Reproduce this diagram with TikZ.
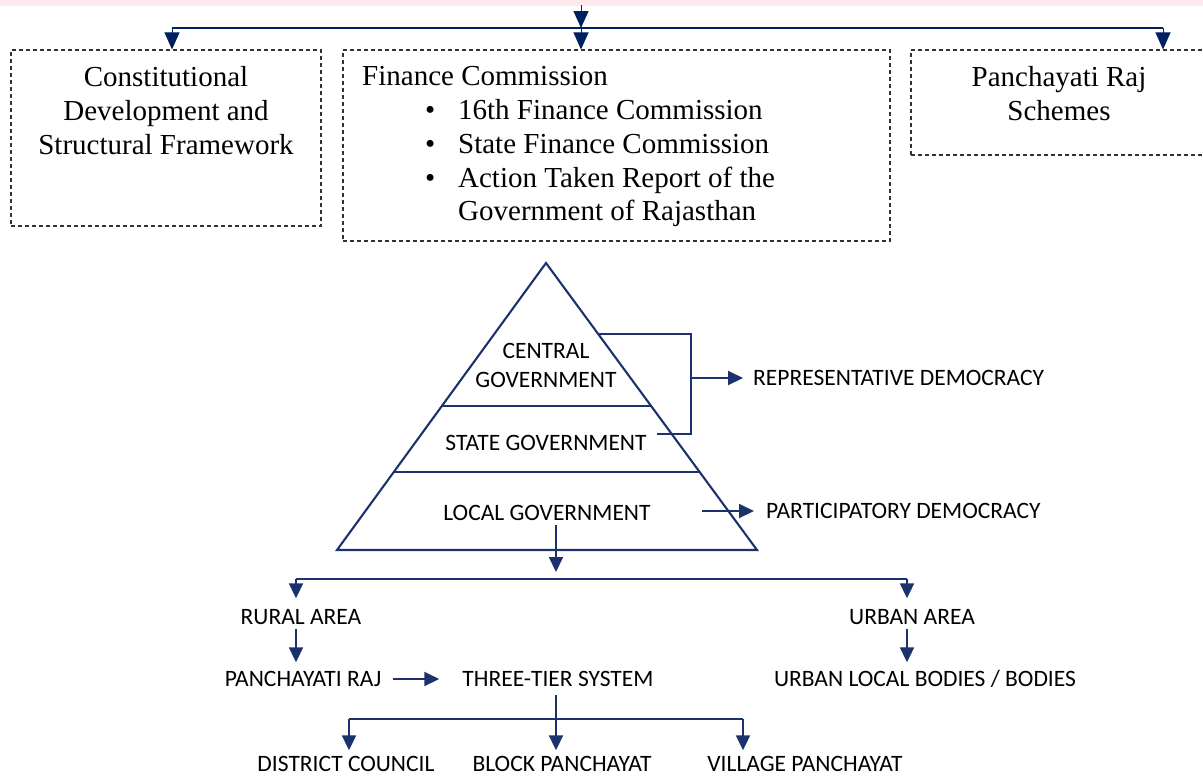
\documentclass[tikz,border=0pt]{standalone}
\usepackage{fontspec}
\setmainfont{Liberation Serif}
\newfontfamily\govfont{Carlito}
\usepackage{tikz}
\usetikzlibrary{arrows.meta,calc}
\definecolor{AzulFlecha}{RGB}{0,32,96}
\definecolor{AzulLinea}{RGB}{28,50,108}
\definecolor{RosaFranja}{RGB}{253,233,236}
\definecolor{GrisCaja}{RGB}{50,50,50}

\begin{document}
\begin{tikzpicture}[x=1pt,y=-1pt,>=Latex,
  dashbox/.style={draw=GrisCaja,dash pattern=on 4pt off 3pt,line width=1.1pt,inner sep=0pt},
  serif/.style={font=\fontsize{29}{33.7}\selectfont,inner sep=0pt},
  gov/.style={font=\govfont\fontsize{23.5}{29}\selectfont,inner sep=0pt,text height=15pt,text depth=0pt},
  toparrow/.style={AzulFlecha,line width=1pt,-{Triangle[width=15pt,length=17pt]}},
  flow/.style={AzulLinea,line width=2pt,-{Triangle[width=14pt,length=15pt]}},
  tier/.style={AzulLinea,line width=2.1pt}]
  \useasboundingbox (0,0) rectangle (1203,777);
  \fill[RosaFranja] (0,0) rectangle (1203,6);

  \node[dashbox,minimum width=310pt,minimum height=176pt] (constbox) at (166,138) {};
  \node[dashbox,minimum width=547pt,minimum height=191pt] (fincbox) at (616.5,145.5) {};
  \node[dashbox,minimum width=296pt,minimum height=105pt] (schemebox) at (1059,102.5) {};
  \node[serif,anchor=north,align=center] (consttext) at (166,66.5)
    {Constitutional\\Development and\\Structural Framework};
  \node[serif,anchor=north west,align=left] (finctext) at (362,66.5)
    {Finance Commission\\
     \hspace*{63pt}\makebox[33pt][l]{\textbullet}16th Finance Commission\\
     \hspace*{63pt}\makebox[33pt][l]{\textbullet}State Finance Commission\\
     \hspace*{63pt}\makebox[33pt][l]{\textbullet}Action Taken Report of the\\
     \hspace*{96pt}Government of Rajasthan};
  \node[serif,anchor=north,align=center] (schemetext) at (1059,66.5) {Panchayati Raj\\Schemes};

  \coordinate (src) at (581,5);
  \coordinate (hub) at (581,28);
  \coordinate (hubL) at (172,28);
  \coordinate (hubR) at (1163,28);
  \draw[toparrow] (src) -- (hub);
  \draw[AzulFlecha,line width=2.2pt] (hubL) -- (hubR);
  \draw[toparrow] (hubL) -- (hubL |- constbox.north);
  \draw[toparrow] (hub) -- (hub |- fincbox.north);
  \draw[toparrow] (hubR) -- (hubR |- schemebox.north);

  \coordinate (apex) at (546,263);
  \coordinate (baseL) at (337,550);
  \coordinate (baseR) at (757,550);
  \draw[tier,line join=miter] (apex) -- (baseL) -- (baseR) -- cycle;
  \draw[tier] ($(apex)!0.498!(baseL)$) -- ($(apex)!0.498!(baseR)$);
  \draw[tier] ($(apex)!0.728!(baseL)$) -- ($(apex)!0.728!(baseR)$);

  \node[gov,align=center,text height=,text depth=] (central) at (546,365.5) {CENTRAL\\GOVERNMENT};
  \node[gov] (state) at (546,443) {STATE GOVERNMENT};
  \node[gov] (local) at (547,513) {LOCAL GOVERNMENT};
  \node[gov,anchor=west] (repdem) at (753,378) {REPRESENTATIVE DEMOCRACY};
  \node[gov,anchor=west] (partdem) at (766,511) {PARTICIPATORY DEMOCRACY};

  \coordinate (rtop) at ($(apex)!0.247!(baseR)$);
  \coordinate (rjoin) at (691,378);
  \coordinate (rbot) at (657,434);
  \draw[tier] (rtop) -- (rtop -| rjoin) -- (rjoin |- rbot) -- (rbot);
  \draw[flow] (rjoin) -- ([xshift=-10pt]repdem.west);
  \draw[flow] ([xshift=-64pt]partdem.west) -- ([xshift=-12pt]partdem.west);

  \node[gov] (rural) at (301,617) {RURAL AREA};
  \node[gov] (urban) at (912,617) {URBAN AREA};
  \node[gov] (panraj) at (303,679) {PANCHAYATI RAJ};
  \node[gov] (threetier) at (558,679) {THREE-TIER SYSTEM};
  \node[gov] (ulb) at (925,679) {URBAN LOCAL BODIES / BODIES};
  \node[gov] (district) at (346,764) {DISTRICT COUNCIL};
  \node[gov] (block) at (562,764) {BLOCK PANCHAYAT};
  \node[gov] (village) at (805,764) {VILLAGE PANCHAYAT};

  \coordinate (areaJ) at (556,579);
  \coordinate (ruralJ) at (296,579);
  \coordinate (urbanJ) at (907,579);
  \draw[flow,shorten <=4pt,shorten >=7pt] (local.south -| areaJ) -- (areaJ);
  \draw[tier] (ruralJ) -- (urbanJ);
  \draw[flow,shorten >=11pt] (ruralJ) -- (ruralJ |- rural.north);
  \draw[flow,shorten >=11pt] (urbanJ) -- (urbanJ |- urban.north);
  \draw[flow,shorten <=4pt,shorten >=9pt] (rural.south -| ruralJ) -- (panraj.north -| ruralJ);
  \draw[flow,shorten <=4pt,shorten >=9pt] (urban.south -| urbanJ) -- (ulb.north -| urbanJ);
  \draw[flow] ([xshift=12pt]panraj.east) -- ([xshift=-23pt]threetier.west);

  \coordinate (tierJ) at (556,719);
  \coordinate (distJ) at (349,719);
  \coordinate (villJ) at (743,719);
  \draw[tier] (distJ) -- (villJ);
  \draw[flow,shorten <=8pt,shorten >=6pt] (threetier.south -| tierJ) -- (block.north -| tierJ);
  \draw[flow,shorten >=6pt] (distJ) -- (distJ |- district.north);
  \draw[flow,shorten >=6pt] (villJ) -- (villJ |- village.north);
\end{tikzpicture}
\end{document}
